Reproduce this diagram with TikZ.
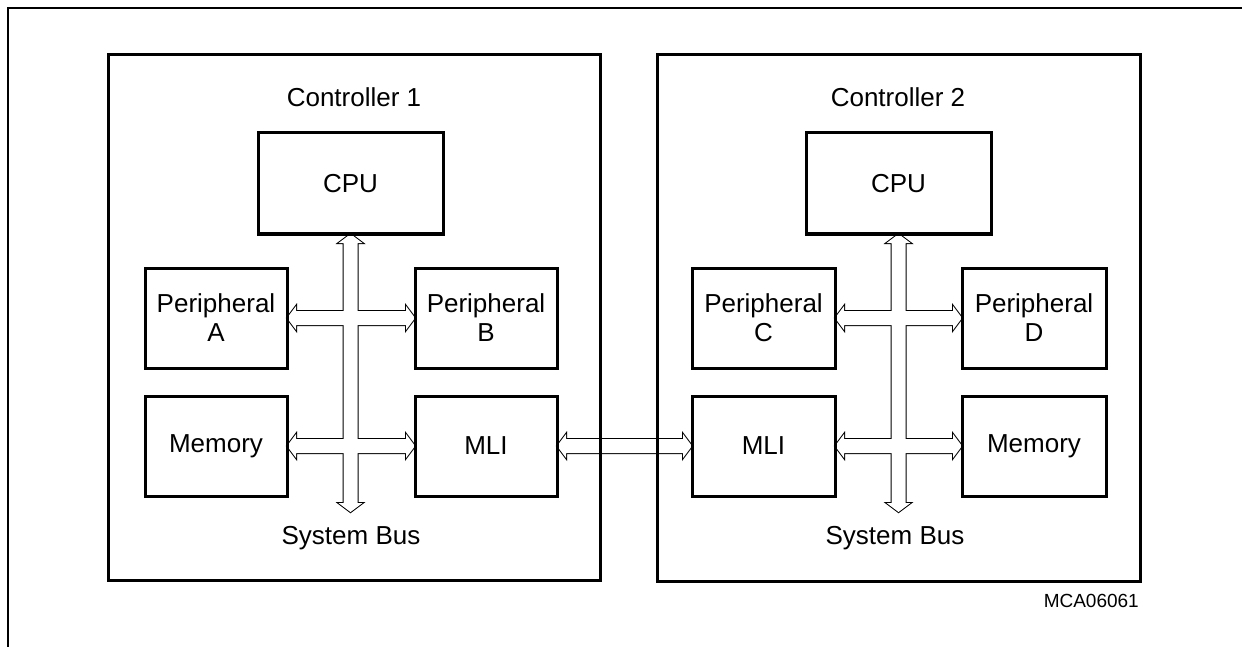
\documentclass[tikz,border=0pt]{standalone}
\usepackage{fontspec}
\setmainfont{Liberation Sans}
\usetikzlibrary{calc}
\tikzset{
  blk/.style={draw, line width=3pt, outer sep=0pt, inner sep=0pt, align=center,
    font=\fontsize{26}{29}\selectfont},
  txt/.style={inner sep=0pt, font=\fontsize{26}{29}\selectfont},
  busline/.style={draw=black, line width=2pt, line join=miter},
  busfill/.style={fill=white},
}
\newcommand\myHarrow[3]{%
  \path[#1] (#2) -- ($(#2)+(9,12)$) -- ($(#2)+(9,7)$) -- ($(#3)+(-9,7)$) -- ($(#3)+(-9,12)$)
   -- (#3) -- ($(#3)+(-9,-12)$) -- ($(#3)+(-9,-7)$) -- ($(#2)+(9,-7)$) -- ($(#2)+(9,-12)$) -- cycle;}
\newcommand\myVarrow[3]{%
  \path[#1] (#2) -- ($(#2)+(12,9)$) -- ($(#2)+(7,9)$) -- ($(#3)+(7,-9)$) -- ($(#3)+(12,-9)$)
   -- (#3) -- ($(#3)+(-12,-9)$) -- ($(#3)+(-7,-9)$) -- ($(#2)+(-7,9)$) -- ($(#2)+(-12,9)$) -- cycle;}
\begin{document}
\begin{tikzpicture}[x=1pt, y=-1pt]
\useasboundingbox (0,0) rectangle (1242,647);
% outer frame (top and left only)
\draw[line width=2pt] (1242,8) -- (8,8) -- (8,647);

% controller 1 nodes
\node[blk, minimum width=185, minimum height=101] (cpu1) at (350.5,183.5) {CPU};
\node[blk, minimum width=142, minimum height=100] (pa) at (216,318) {Peripheral\\A};
\node[blk, minimum width=142, minimum height=100] (pb) at (486,318) {Peripheral\\B};
\node[blk, minimum width=142, minimum height=100] (mem1) at (216,446) {Memory};
\node[blk, minimum width=142, minimum height=100] (mli1) at (486,446) {MLI};
\coordinate (b1end) at (cpu1.south |- 0,512);
\node[txt] (c1lbl) at (354,97) {Controller 1};
\node[txt] (sb1) at (351,538) {System Bus};

% controller 2 nodes
\node[blk, minimum width=185, minimum height=101] (cpu2) at (898.5,183.5) {CPU};
\node[blk, minimum width=143, minimum height=100] (pc) at (763.5,318) {Peripheral\\C};
\node[blk, minimum width=144, minimum height=100] (pd) at (1034,318) {Peripheral\\D};
\node[blk, minimum width=143, minimum height=100] (mli2) at (763.5,446) {MLI};
\node[blk, minimum width=144, minimum height=100] (mem2) at (1034,446) {Memory};
\coordinate (b2end) at (cpu2.south |- 0,512);
\node[txt] (c2lbl) at (898,97) {Controller 2};
\node[txt] (sb2) at (895,538) {System Bus};

\node[inner sep=0pt, anchor=east, font=\fontsize{19}{22}\selectfont] (code) at (1139,601) {MCA06061};

% bus arrows: outlines first
\myVarrow{busline}{cpu1.south}{b1end}
\myHarrow{busline}{pa.east}{pb.west}
\myHarrow{busline}{mem1.east}{mli1.west}
\myVarrow{busline}{cpu2.south}{b2end}
\myHarrow{busline}{pc.east}{pd.west}
\myHarrow{busline}{mli2.east}{mem2.west}
\myHarrow{busline}{mli1.east}{mli2.west}
% then interiors
\myVarrow{busfill}{cpu1.south}{b1end}
\myHarrow{busfill}{pa.east}{pb.west}
\myHarrow{busfill}{mem1.east}{mli1.west}
\myVarrow{busfill}{cpu2.south}{b2end}
\myHarrow{busfill}{pc.east}{pd.west}
\myHarrow{busfill}{mli2.east}{mem2.west}
\myHarrow{busfill}{mli1.east}{mli2.west}

% redraw box borders on top
\foreach \n in {cpu1,pa,pb,mem1,mli1,cpu2,pc,pd,mli2,mem2}
  \draw[line width=3pt] (\n.north west) rectangle (\n.south east);

% controller frames
\draw[line width=3pt] (108,55) rectangle (600,580);
\draw[line width=3pt] (657,55) rectangle (1140,581);
\end{tikzpicture}
\end{document}
